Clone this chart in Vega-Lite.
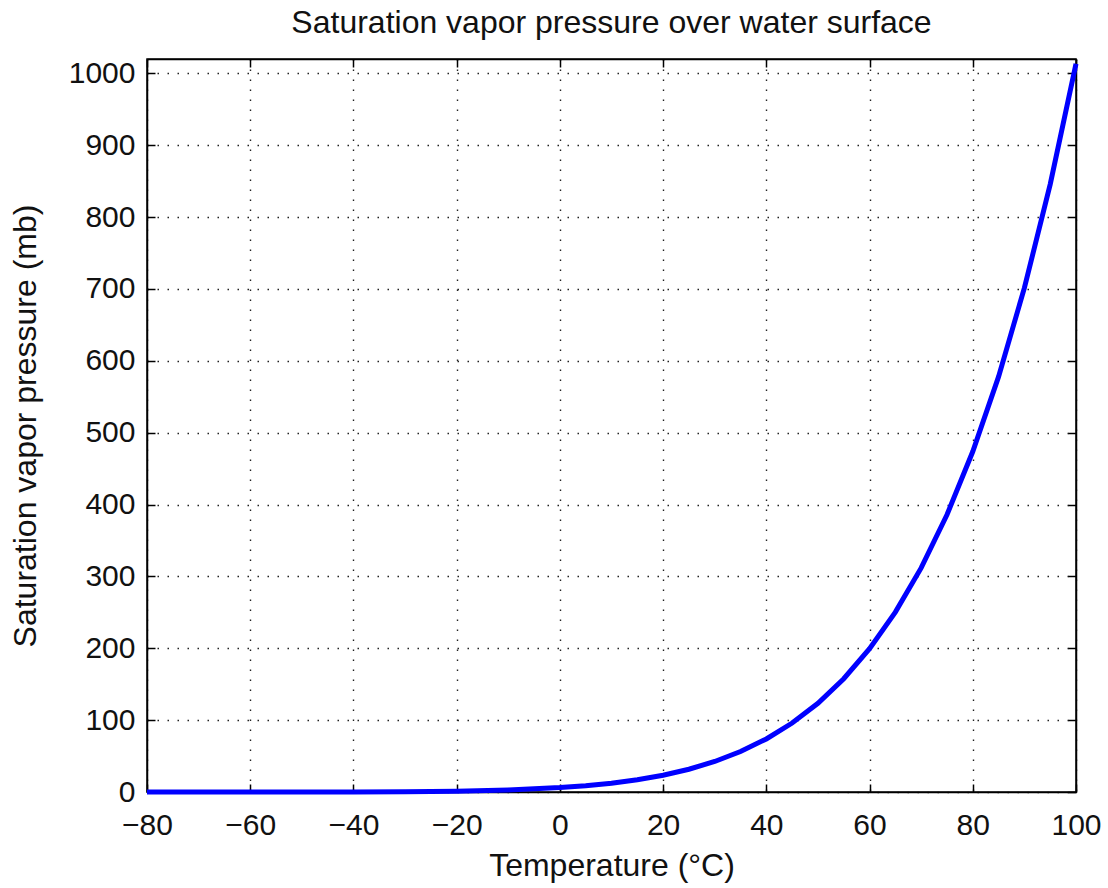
{
  "$schema": "https://vega.github.io/schema/vega-lite/v6.json",
  "width": 929,
  "height": 733,
  "autosize": {"type": "none"},
  "padding": {"left": 147, "top": 59, "right": 32, "bottom": 96},
  "background": "white",
  "title": {"text": "Saturation vapor pressure over water surface", "font": "Liberation Sans", "fontSize": 32, "fontWeight": "normal", "color": "#111111", "offset": 14},
  "config": {
    "view": {"stroke": "black", "strokeWidth": 1.5},
    "axis": {
      "labelFont": "Liberation Sans", "labelFontSize": 30, "labelColor": "#111111", "labelFlush": false, "labelOverlap": false,
      "titleFont": "Liberation Sans", "titleFontSize": 32, "titleFontWeight": "normal", "titleColor": "#111111",
      "domainColor": "black", "domainWidth": 1.5, "tickColor": "black", "tickWidth": 1.5, "tickSize": -8,
      "gridColor": "#222222", "gridDash": [1.5, 8.5], "gridWidth": 1.4, "gridOpacity": 1
    }
  },
  "data": {"values": [
    {"T": -80, "es": 0.0005}, {"T": -70, "es": 0.0026}, {"T": -60, "es": 0.0108}, {"T": -50, "es": 0.0394},
    {"T": -40, "es": 0.128}, {"T": -30, "es": 0.380}, {"T": -20, "es": 1.03}, {"T": -10, "es": 2.87},
    {"T": 0, "es": 6.11}, {"T": 5, "es": 8.73}, {"T": 10, "es": 12.28}, {"T": 15, "es": 17.05},
    {"T": 20, "es": 23.39}, {"T": 25, "es": 31.69}, {"T": 30, "es": 42.46}, {"T": 35, "es": 56.29},
    {"T": 40, "es": 73.84}, {"T": 45, "es": 95.93}, {"T": 50, "es": 123.5}, {"T": 55, "es": 157.6},
    {"T": 60, "es": 199.4}, {"T": 65, "es": 250.3}, {"T": 70, "es": 311.8}, {"T": 75, "es": 385.8},
    {"T": 80, "es": 473.8}, {"T": 85, "es": 578.0}, {"T": 90, "es": 701.4}, {"T": 95, "es": 845.6},
    {"T": 100, "es": 1013.3}
  ]},
  "layer": [
    {
      "mark": {"type": "line", "color": "#0000ff", "strokeWidth": 5},
      "encoding": {
        "x": {"field": "T", "type": "quantitative", "scale": {"domain": [-80, 100], "nice": false, "zero": false},
              "axis": {"orient": "bottom", "title": "Temperature (°C)", "format": "d", "values": [-80, -60, -40, -20, 0, 20, 40, 60, 80, 100], "grid": true, "labelPadding": 26, "titlePadding": 10}},
        "y": {"field": "es", "type": "quantitative", "scale": {"domain": [0, 1020], "nice": false},
              "axis": {"orient": "left", "title": "Saturation vapor pressure (mb)", "format": "d", "values": [0, 100, 200, 300, 400, 500, 600, 700, 800, 900, 1000], "grid": true, "labelPadding": 20, "titlePadding": 26}}
      }
    },
    {
      "mark": {"type": "line", "opacity": 0},
      "encoding": {
        "x": {"field": "T", "type": "quantitative", "scale": {"domain": [-80, 100], "nice": false, "zero": false},
              "axis": {"orient": "top", "title": null, "labels": false, "values": [-80, -60, -40, -20, 0, 20, 40, 60, 80, 100], "grid": false}},
        "y": {"field": "es", "type": "quantitative", "scale": {"domain": [0, 1020], "nice": false},
              "axis": {"orient": "right", "title": null, "labels": false, "values": [0, 100, 200, 300, 400, 500, 600, 700, 800, 900, 1000], "grid": false}}
      }
    }
  ],
  "resolve": {"scale": {"x": "independent", "y": "independent"}}
}
